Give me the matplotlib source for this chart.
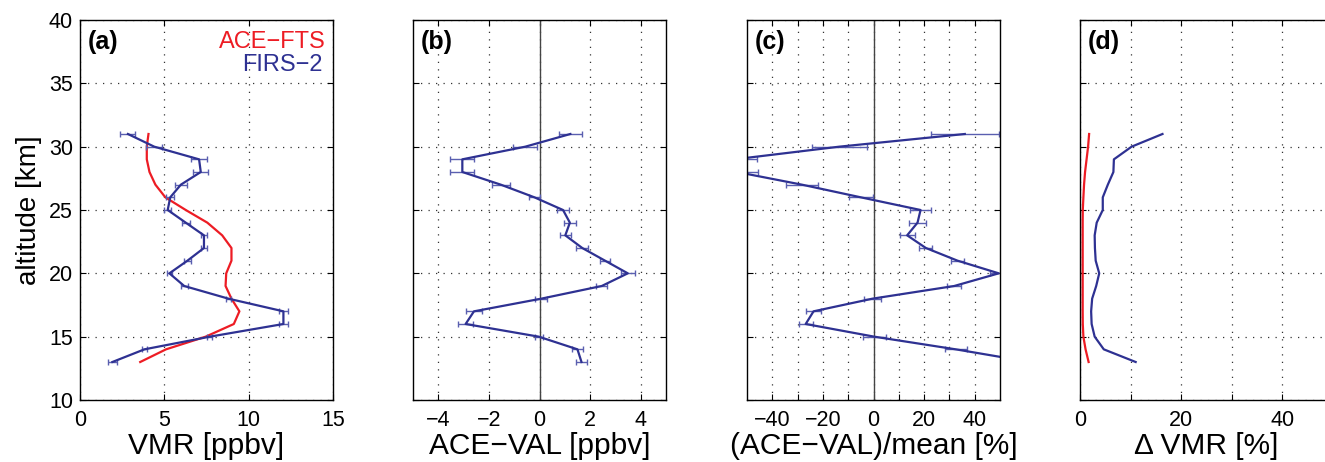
import numpy as np
import matplotlib
matplotlib.use("Agg")
import matplotlib.pyplot as plt
from matplotlib.ticker import MultipleLocator, FixedLocator

plt.rcParams['font.family'] = ['Liberation Sans', 'DejaVu Sans']
plt.rcParams['axes.unicode_minus'] = True

# altitudes [km]
alt = np.arange(13, 32)

# (a) VMR [ppbv]
ace_vmr = [3.57, 5.1, 7.45, 9.12, 9.45, 8.98, 8.63, 8.67, 8.98, 8.98, 8.43, 7.55,
           6.27, 5.06, 4.47, 4.12, 3.96, 3.96, 4.06]
firs_vmr = [1.92, 3.82, 7.7, 12.06, 12.06, 8.8, 6.18, 5.3, 6.37, 7.35, 7.35, 6.27,
            5.2, 5.35, 5.98, 7.16, 7.06, 4.4, 2.84]
firs_err = [0.25, 0.17, 0.15, 0.26, 0.26, 0.15, 0.2, 0.15, 0.22, 0.2, 0.2, 0.25,
            0.2, 0.25, 0.34, 0.45, 0.47, 0.49, 0.44]

# (b) ACE-VAL [ppbv]
diff_abs = [1.66, 1.5, -0.03, -2.92, -2.59, 0.07, 2.46, 3.49, 2.59, 1.69, 1.02, 1.2,
            0.93, -0.2, -1.53, -3.05, -3.05, -0.56, 1.22]
diff_abs_err = [0.23, 0.23, 0.15, 0.3, 0.3, 0.23, 0.21, 0.27, 0.21, 0.23, 0.22, 0.25,
                0.23, 0.23, 0.35, 0.48, 0.48, 0.48, 0.46]

# (c) (ACE-VAL)/mean [%]
diff_rel = [62, 32.5, 0.3, -26.8, -23.7, -0.4, 31.9, 49.5, 33.2, 20.7, 13.3, 17.4,
            18.6, -5.0, -28.3, -54, -55, -13.5, 36.1]
diff_rel_err = [5.0, 4.3, 4.6, 2.8, 2.8, 3.3, 2.8, 3.3, 2.6, 2.6, 3.0, 3.3,
                4.3, 4.8, 6.4, 8.5, 9.0, 10.9, 13.5]

# (d) delta VMR [%]
ace_dvmr = [1.7, 1.1, 0.67, 0.55, 0.53, 0.53, 0.53, 0.53, 0.53, 0.53, 0.53, 0.53,
            0.55, 0.67, 0.8, 1.0, 1.3, 1.6, 1.8]
firs_dvmr = [11.0, 4.7, 2.9, 2.3, 2.2, 2.4, 3.2, 3.8, 3.1, 2.95, 2.9, 3.3,
             4.5, 4.5, 5.5, 6.6, 6.7, 10.2, 16.3]

red = '#ED1C24'
blue = '#2E3192'
W, H = 1325, 462

fig = plt.figure(figsize=(W / 100, H / 100), dpi=100)

lefts = [80, 413, 747, 1080]
axes = []
for l in lefts:
    ax = fig.add_axes([l / W, (H - 400) / H, 253 / W, 380 / H])
    axes.append(ax)

def style(ax):
    ax.set_ylim(10, 40)
    ax.yaxis.set_major_locator(MultipleLocator(5))
    ax.tick_params(direction='in', top=True, right=True, length=4, width=0.8,
                   labelsize=15.5)
    ax.tick_params(axis='x', pad=7)
    ax.tick_params(axis='y', pad=5)
    ax.grid(True, linestyle=(0, (1, 5)), color='#333333', linewidth=0.9)
    for s in ax.spines.values():
        s.set_linewidth(1.0)

ebkw = dict(color=blue, lw=1.6, elinewidth=1.0, capsize=2.5, capthick=1.0, ecolor='#5a5fb0')
xl_kw = dict(fontsize=21.5, labelpad=1)

# (a)
ax = axes[0]
ax.plot(ace_vmr, alt, color=red, lw=1.6)
ax.errorbar(firs_vmr, alt, xerr=firs_err, **ebkw)
ax.set_xlim(0, 15)
ax.xaxis.set_major_locator(MultipleLocator(5))
ax.set_ylabel('altitude [km]', fontsize=20, labelpad=5)
ax.set_xlabel('VMR [ppbv]', **xl_kw)
ax.text(0.97, 0.97, 'ACE\u2212FTS', color=red, fontsize=17, ha='right', va='top',
        transform=ax.transAxes)
ax.text(0.96, 0.91, 'FIRS\u22122', color=blue, fontsize=17, ha='right', va='top',
        transform=ax.transAxes)

# (b)
ax = axes[1]
ax.axvline(0, color='#444444', lw=1.0)
ax.errorbar(diff_abs, alt, xerr=diff_abs_err, **ebkw)
ax.set_xlim(-5, 5)
ax.xaxis.set_major_locator(FixedLocator([-4, -2, 0, 2, 4]))
ax.set_xlabel('ACE\u2212VAL [ppbv]', **xl_kw)

# (c)
ax = axes[2]
ax.axvline(0, color='#444444', lw=1.0)
ax.errorbar(diff_rel, alt, xerr=diff_rel_err, **ebkw)
ax.set_xlim(-50, 50)
cticks = list(range(-40, 50, 10))
ax.set_xticks(cticks)
ax.set_xticklabels([str(t).replace('-', '\u2212') if t % 20 == 0 else '' for t in cticks])
ax.set_xlabel('(ACE\u2212VAL)/mean [%]', **xl_kw)

# (d)
ax = axes[3]
ax.plot(ace_dvmr, alt, color=red, lw=1.6)
ax.plot(firs_dvmr, alt, color=blue, lw=1.6)
ax.set_xlim(0, 50)
dticks = list(range(0, 50, 10))
ax.set_xticks(dticks)
ax.set_xticklabels([str(t) if t % 20 == 0 else '' for t in dticks])
ax.set_xlabel('\u0394 VMR [%]', **xl_kw)

for i, ax in enumerate(axes):
    style(ax)
    if i > 0:
        ax.set_yticklabels([])
    ax.text(0.032, 0.975, '(%s)' % 'abcd'[i], transform=ax.transAxes, fontsize=18,
            fontweight='bold', ha='left', va='top')
    ax.set_axisbelow(True)

fig.savefig('out.png', dpi=100)
